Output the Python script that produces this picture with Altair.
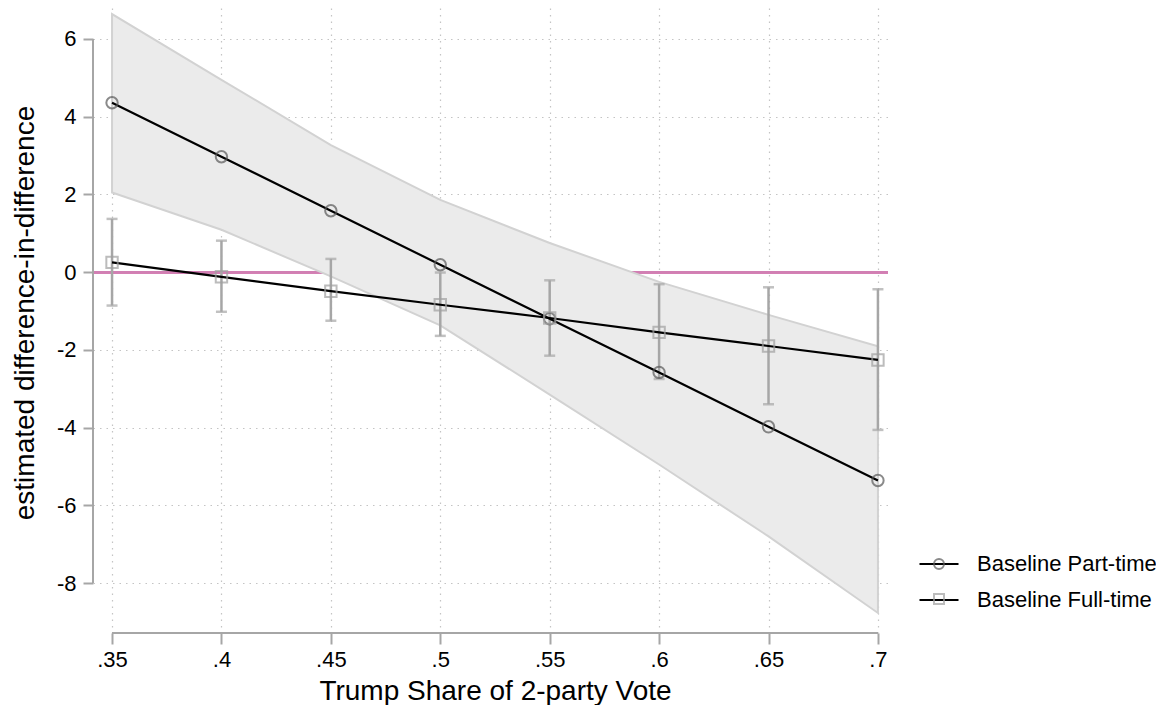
import altair as alt
import pandas as pd

# ---- data ----
x_vals = [0.35, 0.40, 0.45, 0.50, 0.55, 0.60, 0.65, 0.70]

part_est = [4.36, 2.97, 1.58, 0.19, -1.20, -2.58, -3.98, -5.36]
part_lo = [2.05, 1.09, -0.11, -1.37, -3.15, -4.95, -6.80, -8.77]
part_hi = [6.64, 4.95, 3.27, 1.86, 0.75, -0.25, -1.10, -1.91]

full_est = [0.25, -0.12, -0.49, -0.84, -1.18, -1.55, -1.90, -2.26]
full_lo = [-0.86, -1.02, -1.25, -1.64, -2.15, -2.75, -3.40, -4.06]
full_hi = [1.37, 0.81, 0.34, -0.01, -0.21, -0.31, -0.39, -0.44]

series_names = ["Baseline Part-time", "Baseline Full-time"]
marker_keys = ["pt", "ft"]
y_ticks = [-8, -6, -4, -2, 0, 2, 4, 6]
x_ticks = x_vals

rows = []
for name, key, est, lo, hi in [
    (series_names[0], marker_keys[0], part_est, part_lo, part_hi),
    (series_names[1], marker_keys[1], full_est, full_lo, full_hi),
]:
    for x, e, l, h in zip(x_vals, est, lo, hi):
        rows.append({"x": x, "est": e, "lo": l, "hi": h, "series": name, "marker": key})
df = pd.DataFrame(rows)

FONT = "Liberation Sans"
AX = "#a6a6a6"

xscale = alt.Scale(domain=[0.3413, 0.7046], nice=False, zero=False)
yscale = alt.Scale(domain=[-9.286, 6.797], nice=False, zero=False)

xaxis = alt.Axis(
    values=x_ticks, domain=False, grid=True,
    labelExpr="substring(format(datum.value, '.2~f'), 1)",
    tickSize=11, tickWidth=2, tickColor=AX,
    labelFontSize=22, labelColor="black", labelPadding=5, labelFont=FONT,
    title="Trump Share of 2-party Vote", titleFontSize=28, titleFont=FONT,
    titleFontWeight="normal", titleColor="black",
    titleX=402, titleY=66, titleBaseline="alphabetic",
    gridColor="#c4c4c4", gridDash=[1.5, 5], gridWidth=1.2,
)
yaxis = alt.Axis(
    values=y_ticks, domain=False, grid=True,
    labelExpr="'' + datum.value",
    tickSize=10, tickWidth=2, tickColor=AX,
    labelFontSize=22, labelColor="black", labelPadding=7, labelFont=FONT,
    title="estimated difference-in-difference", titleFontSize=28, titleFont=FONT,
    titleFontWeight="normal", titleColor="black",
    titleX=-60, titleY=304.5, titleBaseline="alphabetic",
    gridColor="#c4c4c4", gridDash=[1.5, 5], gridWidth=1.2,
)

base = alt.Chart(df)
X = alt.X("x:Q", scale=xscale, axis=xaxis)

zero_line = base.mark_rule(color="#d17fb3", strokeWidth=2).encode(
    y=alt.datum(0, scale=yscale, axis=yaxis)
)

band = base.transform_filter(alt.datum.series == series_names[0]).mark_area(
    fill="#ebebeb", stroke="#d2d2d2", strokeWidth=2
).encode(x=X, y=alt.Y("lo:Q", scale=yscale, axis=yaxis), y2="hi:Q")

full = base.transform_filter(alt.datum.series == series_names[1])
err = full.mark_rule(color=AX, strokeWidth=2.5).encode(
    x=X, y=alt.Y("lo:Q", scale=yscale, axis=yaxis), y2="hi:Q"
)
cap_lo = full.mark_tick(color=AX, orient="horizontal", size=11, thickness=2.5).encode(
    x=X, y=alt.Y("lo:Q", scale=yscale, axis=yaxis)
)
cap_hi = full.mark_tick(color=AX, orient="horizontal", size=11, thickness=2.5).encode(
    x=X, y=alt.Y("hi:Q", scale=yscale, axis=yaxis)
)

legend_y = 545
lines = base.mark_line(strokeWidth=2.2).encode(
    x=X, y=alt.Y("est:Q", scale=yscale, axis=yaxis),
    color=alt.Color(
        "series:N",
        scale=alt.Scale(domain=series_names, range=["black", "black"]),
        legend=alt.Legend(
            orient="none", legendX=825, legendY=legend_y - 10, title=None,
            symbolType="stroke", symbolSize=1521, symbolStrokeWidth=2.2,
            labelFontSize=22, labelFont=FONT, labelColor="black", labelLimit=400,
            labelOffset=17, rowPadding=4, padding=0, zindex=1,
        ),
    ),
    detail="series:N",
)

pt_legend = alt.Legend(
    orient="none", legendX=835, legendY=legend_y, title=None,
    symbolSize=100, symbolStrokeWidth=2, symbolFillColor="white",
    labelFontSize=22, labelFont=FONT, labelExpr="''",
    labelOffset=16, rowPadding=13, padding=0, zindex=2,
)
points = base.mark_point(filled=False, size=130, strokeWidth=2).encode(
    x=X, y=alt.Y("est:Q", scale=yscale, axis=yaxis),
    stroke=alt.Stroke(
        "marker:N",
        scale=alt.Scale(domain=marker_keys, range=["#595959", "#a0a0a0"]),
        legend=pt_legend,
    ),
    shape=alt.Shape(
        "marker:N",
        scale=alt.Scale(domain=marker_keys, range=["circle", "square"]),
        legend=pt_legend,
    ),
)

yaxis_line = base.mark_rule(color=AX, strokeWidth=2).encode(
    x=alt.value(0),
    y=alt.datum(min(y_ticks), scale=yscale, axis=yaxis),
    y2=alt.datum(max(y_ticks)),
)
xaxis_line = base.mark_rule(color=AX, strokeWidth=2).encode(
    y=alt.value(625),
    x=alt.datum(min(x_ticks), scale=xscale, axis=xaxis),
    x2=alt.datum(max(x_ticks)),
)

chart = alt.layer(
    zero_line, band, err, cap_lo, cap_hi, lines, points, yaxis_line, xaxis_line
).properties(
    width=795, height=625,
    autosize=alt.AutoSizeParams(type="none"),
    padding={"left": 85, "top": 0, "right": 268, "bottom": 72},
    background="white",
).configure(font=FONT).configure_view(strokeWidth=0, stroke="transparent")

chart.save("out.html", embed_options={"renderer": "svg", "actions": False})
